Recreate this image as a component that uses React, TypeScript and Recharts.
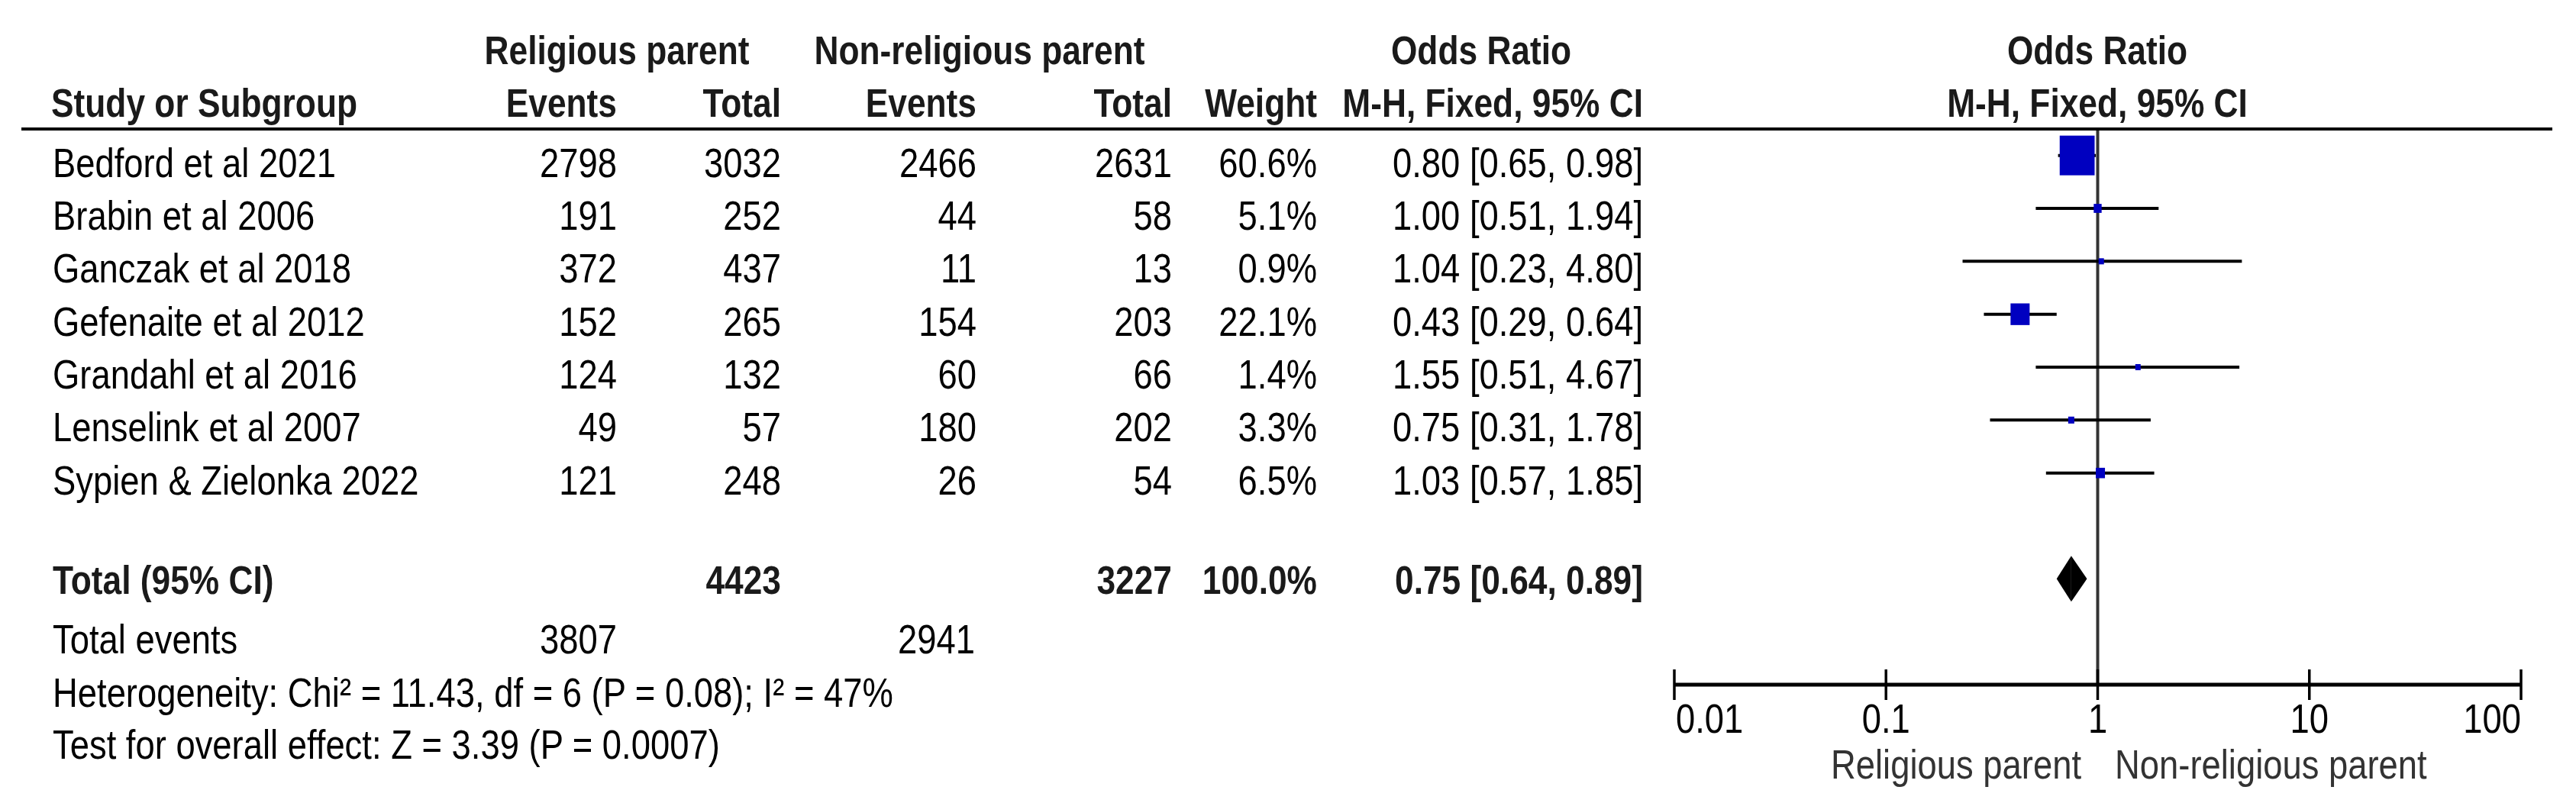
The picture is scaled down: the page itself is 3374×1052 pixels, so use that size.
import React from 'react';
import { ComposedChart, XAxis, YAxis, Scatter, ReferenceLine } from 'recharts';

// ---------- data ----------
const studies = [
  'Bedford et al 2021',
  'Brabin et al 2006',
  'Ganczak et al 2018',
  'Gefenaite et al 2012',
  'Grandahl et al 2016',
  'Lenselink et al 2007',
  'Sypien & Zielonka 2022',
];
const relEvents = [2798, 191, 372, 152, 124, 49, 121];
const relTotal = [3032, 252, 437, 265, 132, 57, 248];
const nonEvents = [2466, 44, 11, 154, 60, 180, 26];
const nonTotal = [2631, 58, 13, 203, 66, 202, 54];
const weights = [60.6, 5.1, 0.9, 22.1, 1.4, 3.3, 6.5];
const oddsRatio = [0.8, 1.0, 1.04, 0.43, 1.55, 0.75, 1.03];
const ciLow = [0.65, 0.51, 0.23, 0.29, 0.51, 0.31, 0.57];
const ciHigh = [0.98, 1.94, 4.8, 0.64, 4.67, 1.78, 1.85];

const totalLabel = 'Total (95% CI)';
const totalRel = 4423;
const totalNon = 3227;
const totalWeight = '100.0%';
const totalOR = 0.75;
const totalLow = 0.64;
const totalHigh = 0.89;
const totalEventsRel = 3807;
const totalEventsNon = 2941;
const heterogeneityText = 'Heterogeneity: Chi\u00B2 = 11.43, df = 6 (P = 0.08); I\u00B2 = 47%';
const overallText = 'Test for overall effect: Z = 3.39 (P = 0.0007)';

const xTicks = [0.01, 0.1, 1, 10, 100];
const xTickLabels = ['0.01', '0.1', '1', '10', '100'];
const favoursLeft = 'Religious parent';
const favoursRight = 'Non-religious parent';

// ---------- layout ----------
const W = 3374;
const H = 1052;
const MARGIN = { top: 169, right: 72, bottom: 55, left: 2192 };
const Y_DOMAIN: [number, number] = [-0.5, 10];
const TOTAL_ROW = 8;
const PLOT_H = H - MARGIN.top - MARGIN.bottom - 100;
const PITCH = PLOT_H / (Y_DOMAIN[1] - Y_DOMAIN[0]);
const rowY = (i: number) => MARGIN.top + (i - Y_DOMAIN[0]) * PITCH;
const CENTER_X = 2747;

const COL = {
  name: 69,
  relEvents: 808,
  relTotal: 1023,
  nonEvents: 1279,
  nonTotal: 1535,
  weight: 1725,
  ci: 2152,
};

const SY = 1.18;
const FONT = "'Liberation Sans', Arial, Helvetica, sans-serif";

function Txt({ x, y, anchor = 'start', bold = false, fill, children }: any) {
  return (
    <g transform={`translate(${x},${y}) scale(1,${SY})`}>
      <text
        x={0}
        y={0}
        textAnchor={anchor}
        fontFamily={FONT}
        fontSize={bold ? 44.3 : 45.4}
        fontWeight={bold ? 'bold' : 'normal'}
        fill={fill || (bold ? '#1a1a1a' : '#000')}
      >
        {children}
      </text>
    </g>
  );
}

const fmt2 = (v: number) => v.toFixed(2);
const ciText = (o: number, l: number, h: number) => `${fmt2(o)} [${fmt2(l)}, ${fmt2(h)}]`;

const studyPoints = studies.map((s, i) => ({ row: i, or: oddsRatio[i], weight: weights[i] }));
const tableRows = [...studies.map((_, i) => i), TOTAL_ROW];

function RowTick(props: any) {
  const { y, payload } = props;
  const i = payload.value;
  if (i === TOTAL_ROW) {
    const b = y + 20;
    return (
      <g>
        <Txt x={COL.name} y={b} bold>{totalLabel}</Txt>
        <Txt x={COL.relTotal} y={b} anchor="end" bold>{totalRel}</Txt>
        <Txt x={COL.nonTotal} y={b} anchor="end" bold>{totalNon}</Txt>
        <Txt x={COL.weight} y={b} anchor="end" bold>{totalWeight}</Txt>
        <Txt x={COL.ci} y={b} anchor="end" bold>{ciText(totalOR, totalLow, totalHigh)}</Txt>
      </g>
    );
  }
  if (i < 0 || i >= studies.length) return <g />;
  const b = y + 28;
  return (
    <g>
      <Txt x={COL.name} y={b}>{studies[i]}</Txt>
      <Txt x={COL.relEvents} y={b} anchor="end">{relEvents[i]}</Txt>
      <Txt x={COL.relTotal} y={b} anchor="end">{relTotal[i]}</Txt>
      <Txt x={COL.nonEvents} y={b} anchor="end">{nonEvents[i]}</Txt>
      <Txt x={COL.nonTotal} y={b} anchor="end">{nonTotal[i]}</Txt>
      <Txt x={COL.weight} y={b} anchor="end">{`${weights[i].toFixed(1)}%`}</Txt>
      <Txt x={COL.ci} y={b} anchor="end">{ciText(oddsRatio[i], ciLow[i], ciHigh[i])}</Txt>
    </g>
  );
}

function XTick(props: any) {
  const { x, y, index } = props;
  const anchor = index === 0 ? 'start' : index === xTicks.length - 1 ? 'end' : 'middle';
  return (
    <g>
      <line x1={x} x2={x} y1={y - 20} y2={y + 20} stroke="#000" strokeWidth={3.5} />
      <Txt x={x + (index === 0 ? 2 : 0)} y={y + 63} anchor={anchor}>{xTickLabels[index]}</Txt>
    </g>
  );
}

function StudySquare(props: any) {
  const { cx, cy, payload } = props;
  const h = Math.max(8, 4.43 * Math.pow(payload.weight, 0.6));
  const w = h * 0.88;
  return <rect x={cx - w / 2} y={cy - h / 2} width={w} height={h} fill="#0000C0" />;
}

const DIAMOND_HALF = 30;
const leftHalf = (p: any) => (
  <polygon
    points={`${p.x1},${p.y1} ${p.x2},${p.y2 - DIAMOND_HALF} ${p.x2},${p.y2 + DIAMOND_HALF}`}
    fill="#000"
  />
);
const rightHalf = (p: any) => (
  <polygon
    points={`${p.x1},${p.y1 - DIAMOND_HALF} ${p.x2},${p.y2} ${p.x1},${p.y1 + DIAMOND_HALF}`}
    fill="#000"
  />
);

export default function App() {
  return (
    <div style={{ position: 'absolute', left: 0, top: 0, width: W, height: H, background: '#fff' }}>
      <ComposedChart width={W} height={H} margin={MARGIN}>
        <XAxis
          type="number"
          dataKey="or"
          scale="log"
          domain={[0.01, 100]}
          allowDataOverflow
          ticks={xTicks}
          interval={0}
          tickSize={0}
          tickMargin={0}
          tickLine={false}
          axisLine={{ stroke: '#000', strokeWidth: 5 }}
          tick={XTick}
          height={100}
        />
        <YAxis
          type="number"
          dataKey="row"
          domain={Y_DOMAIN}
          reversed
          allowDataOverflow
          ticks={tableRows}
          interval={0}
          width={1}
          axisLine={false}
          tickLine={false}
          tick={RowTick}
        />
        <ReferenceLine x={1} stroke="#333" strokeWidth={4} ifOverflow="visible" />
        {studies.map((_, i) => (
          <ReferenceLine
            key={`ci-${i}`}
            segment={[{ x: ciLow[i], y: i }, { x: ciHigh[i], y: i }]}
            stroke="#000"
            strokeWidth={4}
            ifOverflow="visible"
          />
        ))}
        <ReferenceLine
          segment={[{ x: totalLow, y: TOTAL_ROW }, { x: totalOR, y: TOTAL_ROW }]}
          shape={leftHalf}
          ifOverflow="visible"
        />
        <ReferenceLine
          segment={[{ x: totalOR, y: TOTAL_ROW }, { x: totalHigh, y: TOTAL_ROW }]}
          shape={rightHalf}
          ifOverflow="visible"
        />
        <Scatter data={studyPoints} shape={StudySquare} isAnimationActive={false} />
      </ComposedChart>
      <svg
        width={W}
        height={H}
        style={{ position: 'absolute', left: 0, top: 0, pointerEvents: 'none' }}
      >
        <line x1={28} x2={3343} y1={169} y2={169} stroke="#000" strokeWidth={4} />
        <Txt x={808} y={84} anchor="middle" bold>Religious parent</Txt>
        <Txt x={1283} y={84} anchor="middle" bold>Non-religious parent</Txt>
        <Txt x={1940} y={84} anchor="middle" bold>Odds Ratio</Txt>
        <Txt x={CENTER_X} y={84} anchor="middle" bold>Odds Ratio</Txt>
        <Txt x={67} y={153} bold>Study or Subgroup</Txt>
        <Txt x={COL.relEvents} y={153} anchor="end" bold>Events</Txt>
        <Txt x={COL.relTotal} y={153} anchor="end" bold>Total</Txt>
        <Txt x={COL.nonEvents} y={153} anchor="end" bold>Events</Txt>
        <Txt x={COL.nonTotal} y={153} anchor="end" bold>Total</Txt>
        <Txt x={COL.weight} y={153} anchor="end" bold>Weight</Txt>
        <Txt x={COL.ci} y={153} anchor="end" bold>M-H, Fixed, 95% CI</Txt>
        <Txt x={CENTER_X} y={153} anchor="middle" bold>M-H, Fixed, 95% CI</Txt>

        <Txt x={COL.name} y={rowY(9) + 28}>Total events</Txt>
        <Txt x={COL.relEvents} y={rowY(9) + 28} anchor="end">{totalEventsRel}</Txt>
        <Txt x={COL.nonEvents - 2} y={rowY(9) + 28} anchor="end">{totalEventsNon}</Txt>
        <Txt x={COL.name} y={rowY(10) + 29}>{heterogeneityText}</Txt>
        <Txt x={COL.name} y={rowY(11) + 28}>{overallText}</Txt>

        <Txt x={2726} y={1020} anchor="end" fill="#333">{favoursLeft}</Txt>
        <Txt x={2770} y={1020} fill="#333">{favoursRight}</Txt>
      </svg>
    </div>
  );
}
